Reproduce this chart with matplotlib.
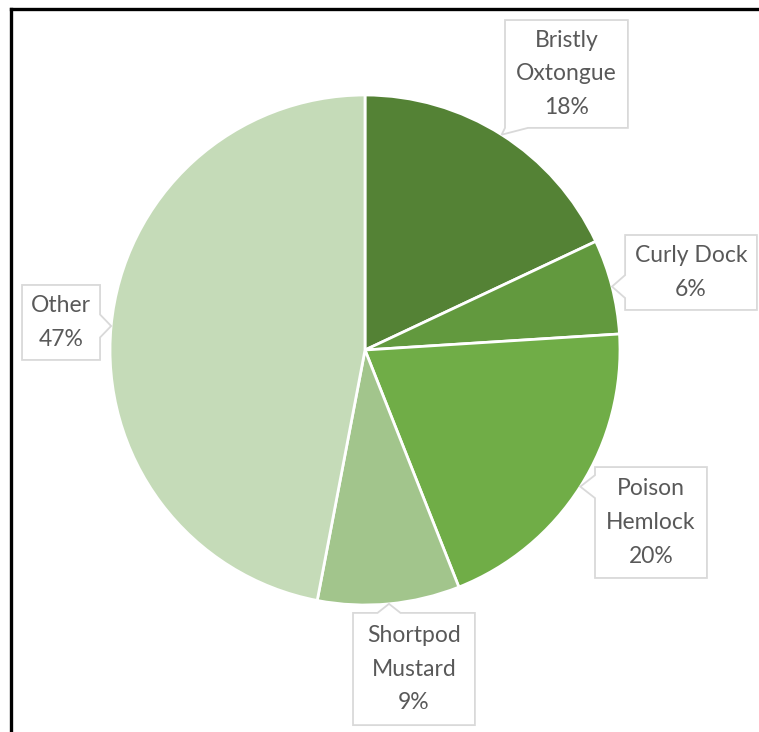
import numpy as np
import matplotlib
matplotlib.use("Agg")
import matplotlib.pyplot as plt
from matplotlib.patches import Polygon
from matplotlib.lines import Line2D

# Share of weed species
species = ["Bristly\nOxtongue", "Curly Dock", "Poison\nHemlock", "Shortpod\nMustard", "Other"]
shares = [18, 6, 20, 9, 47]
colors = ["#548235", "#62993e", "#70ad47", "#a2c58c", "#c5dbb8"]

# Callout boxes (data units of the unit-radius pie): x0, x1, y_bottom, y_top
label_boxes = [
    (0.549, 1.031, 0.871, 1.294),
    (1.020, 1.537, 0.157, 0.451),
    (0.902, 1.341, -0.894, -0.459),
    (-0.047, 0.431, -1.471, -1.031),
    (-1.345, -1.039, -0.039, 0.255),
]

W, H, DPI = 759, 732, 100
fig = plt.figure(figsize=(W / DPI, H / DPI), dpi=DPI)
fig.patch.set_facecolor("white")

cx, cy, r = 365, 350, 255
ax = fig.add_axes([(cx - r) / W, (H - cy - r) / H, 2 * r / W, 2 * r / H])

wedges, _ = ax.pie(shares, colors=colors, startangle=90, counterclock=False,
                   radius=1, wedgeprops=dict(edgecolor="white", linewidth=2))
ax.set_xlim(-1, 1)
ax.set_ylim(-1, 1)
ax.set_aspect("equal")
ax.axis("off")


def callout(box, anchor, hw=0.045):
    x0, x1, y0, y1 = box
    axp, ayp = anchor
    dx = max(x0 - axp, axp - x1, 0)
    dy = max(y0 - ayp, ayp - y1, 0)
    if dy >= dx:
        c = min(max(axp, x0 + hw), x1 - hw)
        if ayp < y0:
            pts = [(x0, y0), (c - hw, y0), (axp, ayp), (c + hw, y0), (x1, y0), (x1, y1), (x0, y1)]
        else:
            pts = [(x0, y0), (x1, y0), (x1, y1), (c + hw, y1), (axp, ayp), (c - hw, y1), (x0, y1)]
    else:
        c = min(max(ayp, y0 + hw), y1 - hw)
        if axp < x0:
            pts = [(x0, y0), (x1, y0), (x1, y1), (x0, y1), (x0, c + hw), (axp, ayp), (x0, c - hw)]
        else:
            pts = [(x0, y0), (x1, y0), (x1, c - hw), (axp, ayp), (x1, c + hw), (x1, y1), (x0, y1)]
    return Polygon(pts, closed=True, facecolor="white", edgecolor="#d9d9d9",
                   linewidth=1.3, zorder=3, clip_on=False)


for w, name, val, box in zip(wedges, species, shares, label_boxes):
    mid = np.deg2rad((w.theta1 + w.theta2) / 2)
    anchor = (np.cos(mid), np.sin(mid))
    ax.add_patch(callout(box, anchor))
    tx = (box[0] + box[1]) / 2
    ty = (box[2] + box[3]) / 2
    ax.text(tx, ty, f"{name}\n{val}%", ha="center", va="center", fontsize=16.5,
            family="Lato", color="#595959", linespacing=1.74, zorder=4)

# frame lines along the left and top edges
fig.add_artist(Line2D([10.5 / W, 10.5 / W], [0, 1 - 9 / H], transform=fig.transFigure,
                      color="black", linewidth=2.4))
fig.add_artist(Line2D([10.5 / W, 1], [1 - 9 / H, 1 - 9 / H], transform=fig.transFigure,
                      color="black", linewidth=2.4))

fig.savefig("out.png", dpi=DPI, facecolor="white")
